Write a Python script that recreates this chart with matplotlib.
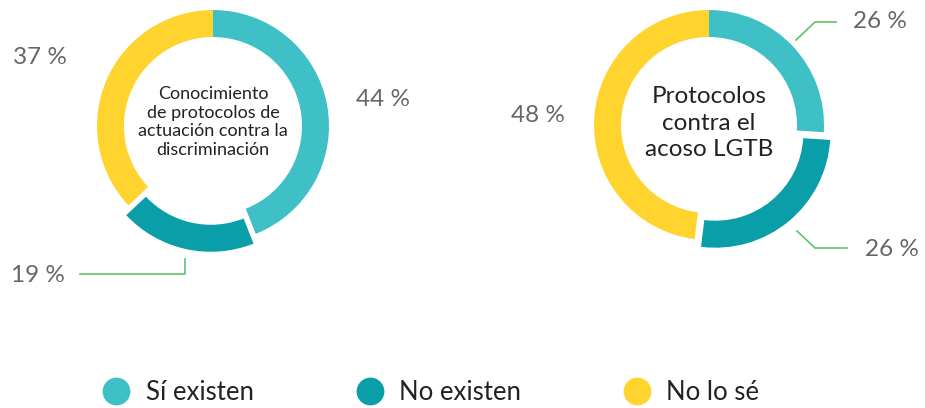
import matplotlib
matplotlib.use("Agg")
import matplotlib.pyplot as plt
from matplotlib.lines import Line2D

# data
categorias = ["Sí existen", "No existen", "No lo sé"]
colores = ["#3fc0c6", "#0a9ea8", "#ffd42f"]
conocimiento = [44, 19, 37]
acoso = [26, 26, 48]
titulo1 = "Conocimiento\nde protocolos de\nactuación contra la\ndiscriminación"
titulo2 = "Protocolos\ncontra el\nacoso LGTB"

plt.rcParams['font.family'] = ['Lato', 'DejaVu Sans']

W, H = 925, 408
fig = plt.figure(figsize=(W/100, H/100), dpi=100)
ax = fig.add_axes([0, 0, 1, 1])

def Y(y):
    # pixel row -> data y
    return H - y

R = 116
ancho = 27
gris = "#666666"
verde = "#5cc46a"

ax.pie(conocimiento, colors=colores, startangle=90, counterclock=False,
       radius=R, center=(213, Y(126)), explode=[0, 10, 0],
       wedgeprops=dict(width=ancho, linewidth=0), frame=True)
ax.pie(acoso, colors=colores, startangle=90, counterclock=False,
       radius=R - 1, center=(709, Y(125)), explode=[0, 10, 0],
       wedgeprops=dict(width=ancho, linewidth=0), frame=True)

ax.text(213, Y(122), titulo1, ha='center', va='center', fontsize=13,
        color='#222222', linespacing=1.2)
ax.text(709, Y(123), titulo2, ha='center', va='center', fontsize=17.5,
        color='#222222', linespacing=1.3)

# etiquetas izquierda
fs = 17.5
ax.text(40, Y(57), f"{conocimiento[2]} %", ha='center', va='center', fontsize=fs, color=gris)
ax.text(383, Y(100), f"{conocimiento[0]} %", ha='center', va='center', fontsize=fs, color=gris)
ax.text(38, Y(275), f"{conocimiento[1]} %", ha='center', va='center', fontsize=fs, color=gris)
ax.plot([185, 185, 80], [Y(259), Y(274), Y(274)], color=verde, lw=1.2)

# etiquetas derecha
ax.text(880, Y(22), f"{acoso[0]} %", ha='center', va='center', fontsize=fs, color=gris)
ax.plot([796, 815, 836], [Y(40), Y(22), Y(22)], color=verde, lw=1.2)
ax.text(892, Y(249), f"{acoso[1]} %", ha='center', va='center', fontsize=fs, color=gris)
ax.plot([797, 815, 847], [Y(231), Y(248), Y(248)], color=verde, lw=1.2)
ax.text(538, Y(115), f"{acoso[2]} %", ha='center', va='center', fontsize=fs, color=gris)

handles = [Line2D([], [], marker='o', ls='none', markersize=20, color=c,
                  markeredgewidth=0) for c in colores]
leg = ax.legend(handles, categorias, loc='center', bbox_to_anchor=(0.465, 1 - 392/H),
                ncol=3, frameon=False, fontsize=18.5, handletextpad=0.55,
                columnspacing=3.9, handlelength=1.2)
for t in leg.get_texts():
    t.set_color('#222222')

ax.set_xlim(0, W)
ax.set_ylim(0, H)
ax.set_aspect('equal', adjustable='datalim')
ax.axis('off')

fig.savefig("out.png", dpi=100)
